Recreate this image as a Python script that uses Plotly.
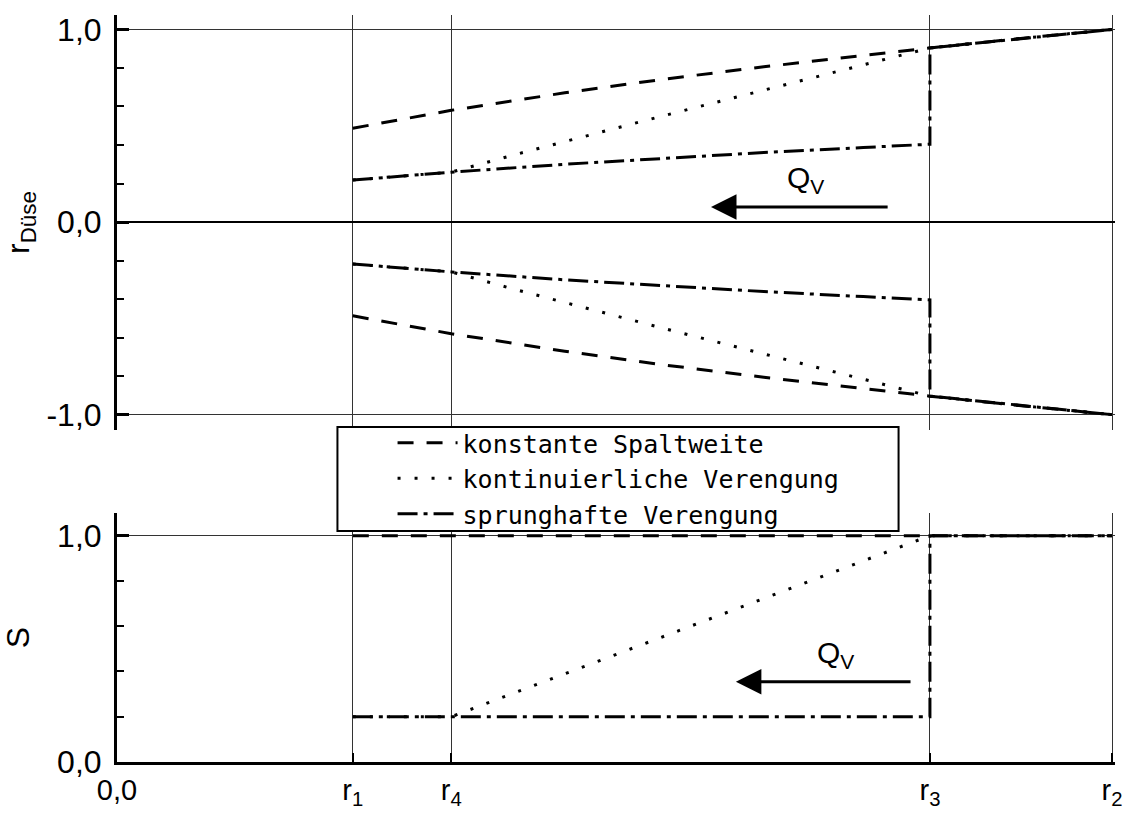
import plotly.graph_objects as go

# ---- data ----
# positions on the r axis (r2 normalised to 1)
r_names = ["0,0", "r<sub>1</sub>", "r<sub>4</sub>", "r<sub>3</sub>", "r<sub>2</sub>"]
r_vals = [0.0, 0.237, 0.336, 0.817, 1.0]

# top panel: nozzle radius r_Düse (upper contour; lower contour is mirrored)
x_const = [0.237, 0.336, 0.45, 0.55, 0.65, 0.75, 0.817, 0.9, 1.0]
y_const = [0.487, 0.580, 0.671, 0.742, 0.806, 0.866, 0.904, 0.949, 1.0]

x_kont = [0.237, 0.336, 0.40, 0.45, 0.50, 0.55, 0.60, 0.65, 0.70, 0.75, 0.817, 0.9, 1.0]
y_kont = [0.218, 0.259, 0.350, 0.419, 0.486, 0.553, 0.619, 0.685, 0.751, 0.816, 0.904, 0.949, 1.0]

x_sprung = [0.237, 0.336, 0.45, 0.55, 0.65, 0.75, 0.817, 0.817, 0.9, 1.0]
y_sprung = [0.218, 0.259, 0.300, 0.332, 0.361, 0.387, 0.404, 0.904, 0.949, 1.0]

# bottom panel: S
xs_const = [0.237, 1.0]
s_const = [1.0, 1.0]
xs_kont = [0.237, 0.336, 0.817, 1.0]
s_kont = [0.2, 0.2, 1.0, 1.0]
xs_sprung = [0.237, 0.817, 0.817, 1.0]
s_sprung = [0.2, 0.2, 1.0, 1.0]

names = ["konstante Spaltweite", "kontinuierliche Verengung", "sprunghafte Verengung"]
dashes = ["16px,13px", "3px,14px", "20px,6px,4px,6px"]

FONT = "Liberation Sans, Arial, sans-serif"
FS = 32
LW = 3

fig = go.Figure()

series_top = [(x_const, y_const), (x_kont, y_kont), (x_sprung, y_sprung)]
series_bot = [(xs_const, s_const), (xs_kont, s_kont), (xs_sprung, s_sprung)]

for i, ((xt, yt), (xb, yb)) in enumerate(zip(series_top, series_bot)):
    line = dict(color="black", width=LW, dash=dashes[i])
    fig.add_trace(go.Scatter(x=xt, y=yt, mode="lines", line=line, name=names[i],
                             legendgroup=names[i], showlegend=True, xaxis="x", yaxis="y"))
    fig.add_trace(go.Scatter(x=xt, y=[-v for v in yt], mode="lines", line=line, name=names[i],
                             legendgroup=names[i], showlegend=False, xaxis="x", yaxis="y"))
    fig.add_trace(go.Scatter(x=xb, y=yb, mode="lines", line=line, name=names[i],
                             legendgroup=names[i], showlegend=False, xaxis="x2", yaxis="y2"))

xcommon = dict(range=[0, 1.003], tickmode="array", tickvals=r_vals, showgrid=True,
               gridcolor="#333333", gridwidth=1, zeroline=False, automargin=False)

fig.update_layout(
    width=1125, height=815,
    margin=dict(l=117, r=10, t=15, b=53, autoexpand=False),
    paper_bgcolor="white", plot_bgcolor="white",
    font=dict(family=FONT, size=FS, color="black"),
    xaxis=dict(**xcommon, domain=[0, 1], anchor="y", showticklabels=False,
               showline=False, ticks=""),
    yaxis=dict(domain=[0.4444, 1], anchor="x", range=[-1.08, 1.075], automargin=False,
               tickmode="array", tickvals=[-1, 0, 1], ticktext=["-1,0", "0,0", "1,0"],
               showgrid=True, gridcolor="#333333", gridwidth=1,
               zeroline=True, zerolinecolor="black", zerolinewidth=2,
               showline=True, linecolor="black", linewidth=3,
               ticks="inside", ticklen=12, tickwidth=3, tickcolor="black",
               ticklabelstandoff=6,
               minor=dict(dtick=0.2, tick0=0, ticks="inside", ticklen=7, tickwidth=2,
                          tickcolor="black", showgrid=False),
               title=dict(text="r<sub>Düse</sub>", standoff=8, font=dict(size=FS))),
    xaxis2=dict(**xcommon, domain=[0, 1], anchor="y2", matches="x",
                ticktext=r_names, showticklabels=True,
                showline=True, linecolor="black", linewidth=3,
                ticks="inside", ticklen=9, tickwidth=2, tickcolor="black",
                ticklabelstandoff=0, tickfont=dict(size=29)),
    yaxis2=dict(domain=[0, 0.3333], anchor="x2", range=[0, 1.10], automargin=False,
                tickmode="array", tickvals=[0, 1], ticktext=["0,0", "1,0"],
                showgrid=True, gridcolor="#333333", gridwidth=1, zeroline=False,
                showline=True, linecolor="black", linewidth=3,
                ticks="inside", ticklen=12, tickwidth=3, tickcolor="black",
                ticklabelstandoff=6,
                minor=dict(dtick=0.2, tick0=0, ticks="inside", ticklen=7, tickwidth=2,
                           tickcolor="black", showgrid=False),
                title=dict(text="S", standoff=18, font=dict(size=FS))),
    legend=dict(x=(392 - 117) / 996, y=(762 - 420) / 747, xanchor="left", yanchor="top",
                bgcolor="rgba(0,0,0,0)", borderwidth=0,
                font=dict(family="DejaVu Sans Mono, monospace", size=25, color="black"),
                itemwidth=60, tracegroupgap=0),
    showlegend=True,
)

# legend frame
fig.add_shape(type="rect", xref="paper", yref="paper", layer="above",
              x0=(337 - 117) / 996, x1=(897 - 117) / 996,
              y0=(762 - 531) / 747, y1=(762 - 427) / 747,
              line=dict(color="black", width=2), fillcolor="white")

# flow direction arrows and labels
fig.add_annotation(x=0.597, y=0.078, ax=0.776, ay=0.078, xref="x", yref="y",
                   axref="x", ayref="y", text="", showarrow=True,
                   arrowhead=2, arrowsize=1.7, arrowwidth=3, arrowcolor="black")
fig.add_annotation(x=0.692, y=0.22, xref="x", yref="y", text="Q<sub>V</sub>",
                   showarrow=False, font=dict(family=FONT, size=30))
fig.add_annotation(x=0.622, y=0.354, ax=0.799, ay=0.354, xref="x2", yref="y2",
                   axref="x2", ayref="y2", text="", showarrow=True,
                   arrowhead=2, arrowsize=1.7, arrowwidth=3, arrowcolor="black")
fig.add_annotation(x=0.722, y=0.475, xref="x2", yref="y2", text="Q<sub>V</sub>",
                   showarrow=False, font=dict(family=FONT, size=30))

fig.write_html(
    "out.html",
    config={"displayModeBar": False},
    post_script=("document.documentElement.style.margin='0';"
                 "document.documentElement.style.overflow='hidden';"
                 "document.body.style.margin='0';"
                 "document.body.style.overflow='hidden';"),
)
